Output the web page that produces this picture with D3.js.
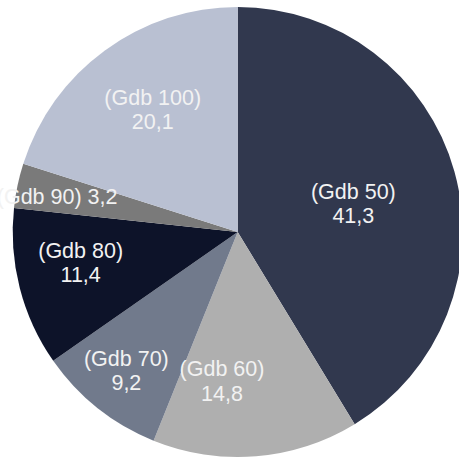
<!DOCTYPE html>
<html>
<head>
<meta charset="utf-8">
<script src="https://cdn.jsdelivr.net/npm/d3@7/dist/d3.min.js"></script>
<style>
  html, body { margin: 0; padding: 0; background: #ffffff; overflow: hidden; }
  svg { display: block; }
</style>
</head>
<body>
<svg id="chart" width="459" height="460"></svg>
<script>
// Share of each group, in percent
const categories = ["Gdb 50", "Gdb 60", "Gdb 70", "Gdb 80", "Gdb 90", "Gdb 100"];
const values = [41.3, 14.8, 9.2, 11.4, 3.2, 20.1];
const valueLabels = ["41,3", "14,8", "9,2", "11,4", "3,2", "20,1"];

// Slice fills
const colors = ["#31384e", "#afafaf", "#717a8c", "#0d1329", "#7a7a7a", "#b9c0d2"];

// Label placement: distance from centre and angular nudge (degrees) per slice
const labelRadius = [119, 150, 178, 160, 184, 149];
const labelNudge = [2, 10.7, 0.2, 3.4, -0.8, 1.4];
const singleLine = [false, false, false, false, true, false];

const svg = d3.select("#chart");
const cx = 237.7, cy = 232, R = 225;

const pie = d3.pie().sort(null).value(d => d.value);
const arc = d3.arc().innerRadius(0).outerRadius(R);

const data = categories.map((c, i) => ({ name: c, value: values[i], label: valueLabels[i], i }));
const arcs = pie(data);

const g = svg.append("g").attr("transform", `translate(${cx},${cy})`);

g.selectAll("path.slice")
  .data(arcs)
  .join("path")
  .attr("class", "slice")
  .attr("d", arc)
  .attr("fill", d => colors[d.data.i]);

const fontSize = 21.5;
const lineGap = 24.5;

g.selectAll("text.lbl")
  .data(arcs)
  .join("text")
  .attr("class", "lbl")
  .attr("text-anchor", "middle")
  .attr("font-family", "'Liberation Sans', Arial, sans-serif")
  .attr("font-size", fontSize)
  .attr("fill", "#f2f2f2")
  .each(function (d) {
    const i = d.data.i;
    const mid = (d.startAngle + d.endAngle) / 2 + labelNudge[i] * Math.PI / 180;
    const x = Math.sin(mid) * labelRadius[i];
    const y = -Math.cos(mid) * labelRadius[i];
    const t = d3.select(this);
    if (singleLine[i]) {
      t.append("tspan").attr("x", x).attr("y", y + 7.5)
        .text(`(${d.data.name}) ${d.data.label}`);
    } else {
      t.append("tspan").attr("x", x).attr("y", y - 5).text(`(${d.data.name})`);
      t.append("tspan").attr("x", x).attr("y", y - 5 + lineGap).text(d.data.label);
    }
  });
</script>
</body>
</html>
